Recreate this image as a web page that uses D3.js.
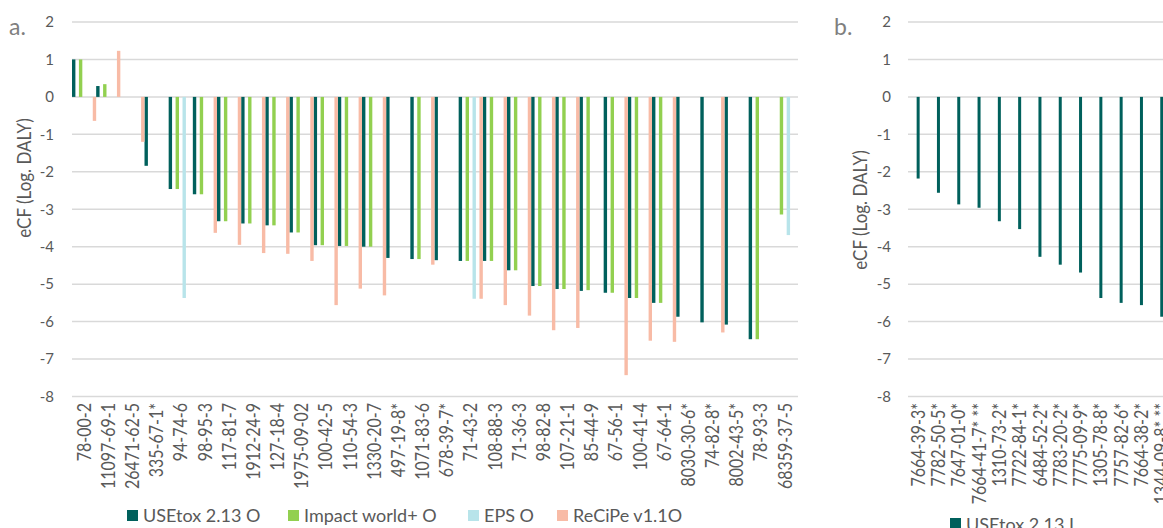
<!DOCTYPE html>
<html>
<head>
<meta charset="utf-8">
<script src="https://cdn.jsdelivr.net/npm/d3@7"></script>
<style>
  body { margin: 0; background: white; }
  svg { display: block; overflow: hidden; font-family: Lato, "Open Sans", sans-serif; }
</style>
</head>
<body>
<svg id="svgContainer"></svg>
<script>
// data for panel a (ordered like the x axis)
const casA = ["78-00-2", "11097-69-1", "26471-62-5", "335-67-1*", "94-74-6", "98-95-3", "117-81-7",
  "1912-24-9", "127-18-4", "1975-09-02", "100-42-5", "110-54-3", "1330-20-7", "497-19-8*",
  "1071-83-6", "678-39-7*", "71-43-2", "108-88-3", "71-36-3", "98-82-8", "107-21-1", "85-44-9",
  "67-56-1", "100-41-4", "67-64-1", "8030-30-6*", "74-82-8*", "8002-43-5*", "78-93-3", "68359-37-5"];
const usetoxO = [1.0, 0.29, null, -1.84, -2.46, -2.6, -3.32, -3.38, -3.43, -3.62, -3.96, -3.98, -4.0, -4.3,
  -4.33, -4.36, -4.38, -4.38, -4.63, -5.05, -5.13, -5.18, -5.23, -5.37, -5.5, -5.87, -6.02, -6.08, -6.47, null];
const impactO = [1.0, 0.34, null, null, -2.46, -2.6, -3.32, -3.38, -3.43, -3.62, -3.96, -3.98, -4.0, null,
  -4.33, null, -4.38, -4.38, -4.63, -5.05, -5.13, -5.16, -5.23, -5.37, -5.5, null, null, null, -6.47, -3.14];
const epsO = [null, null, null, null, -5.37, null, null, null, null, null, null, null, null, null,
  null, null, -5.39, null, null, null, null, null, null, null, null, null, null, null, null, -3.69];
const recipeO = [-0.64, 1.23, -1.2, null, null, -3.63, -3.95, -4.17, -4.19, -4.38, -5.56, -5.12, -5.3, null,
  -4.48, null, -5.39, -5.56, -5.84, -6.23, -6.17, null, -7.43, -6.51, -6.54, null, -6.29, null, null, null];
const seriesNames = ["USEtox 2.13 O", "Impact world+ O", "EPS O", "ReCiPe v1.1O"];
const seriesColors = ["#00605c", "#92d050", "#b8e4ea", "#f8bba6"];

// data for panel b
const casB = ["7664-39-3*", "7782-50-5*", "7647-01-0*", "7664-41-7* **", "1310-73-2*", "7722-84-1*",
  "6484-52-2*", "7783-20-2*", "7775-09-9*", "1305-78-8*", "7757-82-6*", "7664-38-2*", "1344-09-8* **"];
const usetoxI = [-2.18, -2.56, -2.87, -2.96, -3.32, -3.53, -4.27, -4.48, -4.69, -5.37, -5.5, -5.56, -5.87];

const yTicks = [2, 1, 0, -1, -2, -3, -4, -5, -6, -7, -8];

// Set up the SVG container
const svgWidth = 1163;
const svgHeight = 528;
const svg = d3.select("#svgContainer")
  .attr("width", svgWidth)
  .attr("height", svgHeight);

const gridColor = "#d9d9d9";
const textColor = "#595959";

// shared value scale
const y = d3.scaleLinear().domain([-8, 2]).range([396.5, 22]);

// draws the frame of one panel: grid, tick labels, title, letter
function drawFrame(x0, x1, tickX, titleX, titleY, letter, letterX) {
  svg.append("g")
    .selectAll("line")
    .data(yTicks)
    .enter()
    .append("line")
    .attr("x1", x0)
    .attr("x2", x1)
    .attr("y1", d => y(d))
    .attr("y2", d => y(d))
    .attr("stroke", gridColor)
    .attr("stroke-width", 1.5);

  svg.append("g")
    .selectAll("text")
    .data(yTicks)
    .enter()
    .append("text")
    .attr("x", tickX)
    .attr("y", d => y(d))
    .attr("dy", "0.35em")
    .attr("text-anchor", "end")
    .attr("font-size", 15)
    .attr("fill", textColor)
    .text(d => d);

  svg.append("text")
    .attr("transform", `translate(${titleX}, ${titleY}) rotate(-90) scale(1, 1.15)`)
    .attr("text-anchor", "middle")
    .attr("dy", "0.35em")
    .attr("font-size", 17)
    .attr("fill", textColor)
    .text("eCF (Log. DALY)");

  svg.append("text")
    .attr("x", letterX)
    .attr("y", 35)
    .attr("font-size", 23)
    .attr("fill", "#7f7f7f")
    .text(letter);
}

// ---- panel a ----
drawFrame(72, 798, 54, 24, 178, "a.", 9);

const xA = d3.scaleBand().domain(casA).range([72, 797]);
const barW = 3.4;
const inner = d3.scalePoint().domain(seriesNames).range([0, xA.bandwidth() - barW]);

const seriesA = [usetoxO, impactO, epsO, recipeO];
const barsA = [];
seriesA.forEach((vals, s) => {
  vals.forEach((v, i) => {
    if (v !== null) barsA.push({ cas: casA[i], name: seriesNames[s], color: seriesColors[s], v: v });
  });
});

svg.append("g")
  .selectAll("rect")
  .data(barsA)
  .enter()
  .append("rect")
  .attr("x", d => xA(d.cas) + inner(d.name))
  .attr("y", d => Math.min(y(0), y(d.v)))
  .attr("width", barW)
  .attr("height", d => Math.abs(y(d.v) - y(0)))
  .attr("fill", d => d.color);

// rotated CAS labels, a bit stretched across like the source
svg.append("g")
  .selectAll("text")
  .data(casA)
  .enter()
  .append("text")
  .attr("transform", d => `translate(${xA(d) + xA.bandwidth() / 2}, 403) rotate(-90) scale(1, 1.18)`)
  .attr("text-anchor", "end")
  .attr("dy", "0.35em")
  .attr("font-size", 16)
  .attr("fill", textColor)
  .text(d => d);

// legend for panel a
const legendX = [127, 288, 468, 557];
const legendA = svg.selectAll(".legendA")
  .data(seriesNames)
  .enter()
  .append("g")
  .attr("class", "legendA")
  .attr("transform", (d, i) => `translate(${legendX[i]}, 510)`);

legendA.append("rect")
  .attr("width", 11)
  .attr("height", 11)
  .attr("fill", (d, i) => seriesColors[i]);

legendA.append("text")
  .attr("x", 16)
  .attr("y", 11.5)
  .attr("font-size", 18)
  .attr("fill", textColor)
  .text(d => d);

// ---- panel b ----
drawFrame(908, svgWidth, 891, 860, 210, "b.", 834);

const xB = d3.scaleBand().domain(casB).range([908, 908 + 20.3 * casB.length]);
const barWB = 3;

svg.append("g")
  .selectAll("rect")
  .data(usetoxI)
  .enter()
  .append("rect")
  .attr("x", (d, i) => xB(casB[i]) + xB.bandwidth() / 2 - barWB / 2)
  .attr("y", y(0))
  .attr("width", barWB)
  .attr("height", d => y(d) - y(0))
  .attr("fill", seriesColors[0]);

svg.append("g")
  .selectAll("text")
  .data(casB)
  .enter()
  .append("text")
  .attr("transform", d => `translate(${xB(d) + xB.bandwidth() / 2}, 403) rotate(-90) scale(1, 1.18)`)
  .attr("text-anchor", "end")
  .attr("dy", "0.35em")
  .attr("font-size", 16)
  .attr("fill", textColor)
  .text(d => d);

// legend for panel b (cut by the bottom edge, as in the source)
const legendB = svg.append("g")
  .attr("transform", "translate(950, 518)");

legendB.append("rect")
  .attr("width", 11)
  .attr("height", 11)
  .attr("fill", seriesColors[0]);

legendB.append("text")
  .attr("x", 16)
  .attr("y", 12.5)
  .attr("font-size", 18)
  .attr("fill", textColor)
  .text("USEtox 2.13 I");
</script>
</body>
</html>
